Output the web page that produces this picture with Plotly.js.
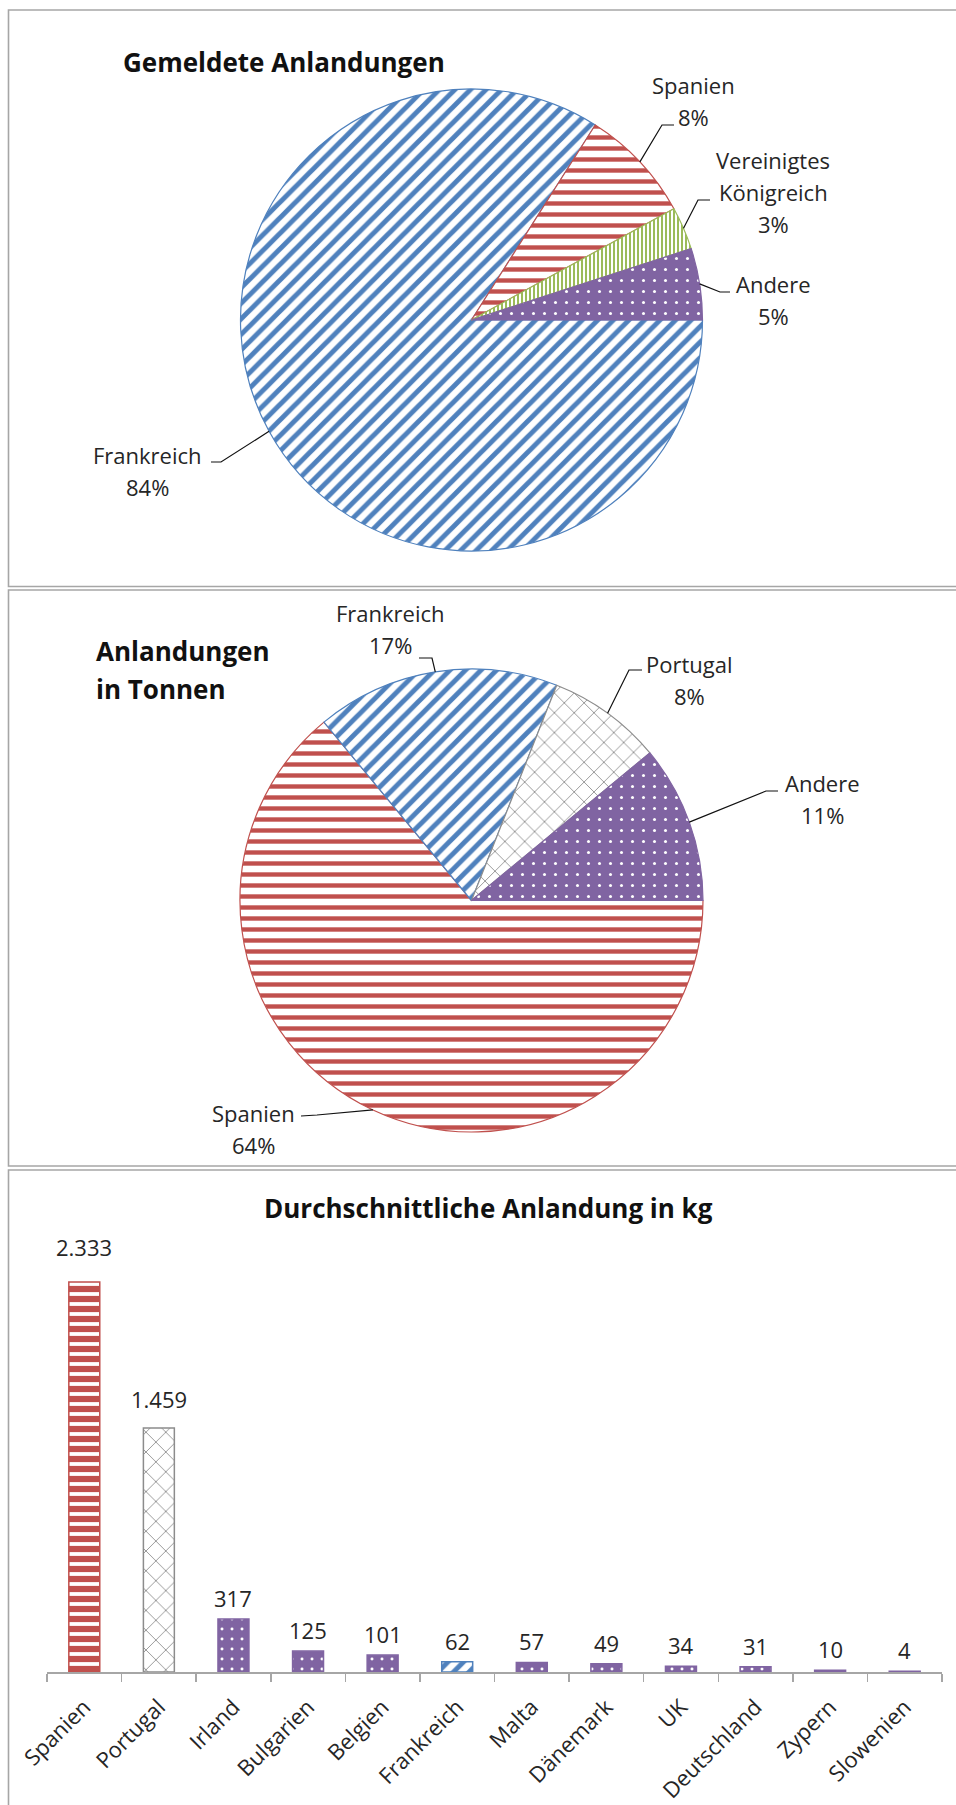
<!DOCTYPE html>
<html><head><meta charset="utf-8">
<script src="https://cdn.plot.ly/plotly-3.0.1.min.js"></script>
<style>html,body{margin:0;padding:0;background:#fff}#chart{width:956px;height:1805px}</style>
</head><body><div id="chart"></div>
<script>
// ---------------- data ----------------
const pie1Title = 'Gemeldete Anlandungen';
const pie1Labels = ['Frankreich', 'Spanien', 'Vereinigtes Königreich', 'Andere'];
const pie1Values = [84, 8, 3, 5];

const pie2TitleLines = ['Anlandungen', 'in Tonnen'];
const pie2Labels = ['Spanien', 'Frankreich', 'Portugal', 'Andere'];
const pie2Values = [64, 17, 8, 11];

const barTitle = 'Durchschnittliche Anlandung in kg';
const barCategories = ['Spanien', 'Portugal', 'Irland', 'Bulgarien', 'Belgien', 'Frankreich',
  'Malta', 'Dänemark', 'UK', 'Deutschland', 'Zypern', 'Slowenien'];
const barValues = [2333, 1459, 317, 125, 101, 62, 57, 49, 34, 31, 10, 4];

// ---------------- styles / layout ----------------
const W = 956, H = 1805;
const px = x => x / W;
const py = y => 1 - y / H;
const FONT = '"Open Sans", sans-serif';
const TEXT = '#262626';
const BORDER = '#a6a6a6';

const countryStyle = {
  'Frankreich': {line: '#4F81BD', shape: '/', fg: '#4F81BD', bg: '#ffffff', size: 11, solidity: 0.45},
  'Spanien': {line: '#C0504D', shape: '-', fg: '#C0504D', bg: '#ffffff', size: 11, solidity: 0.4},
  'Vereinigtes Königreich': {line: '#9BBB59', shape: '|', fg: '#9BBB59', bg: '#ffffff', size: 4, solidity: 0.5},
  'Portugal': {line: '#8C8C8C', shape: 'x', fg: '#8C8C8C', bg: '#ffffff', size: 14, solidity: 0.12},
  'Andere': {line: '#8064A2', shape: '.', fg: '#ffffff', bg: '#8064A2', size: 11, solidity: 0.06}
};
const barStyleOverride = {
  'Spanien': {size: 10, solidity: 0.62},
  'Andere': {size: 10, solidity: 0.07}
};
const styleOf = name => countryStyle[name] || countryStyle['Andere'];
const barStyleOf = name => Object.assign({}, styleOf(name),
  barStyleOverride[countryStyle[name] ? name : 'Andere'] || {});

const pie1Geom = {cx: 471.5, cy: 320, r: 231};
const pie2Geom = {cx: 471.5, cy: 900.5, r: 231.5};

const pie1LabelLayout = {
  'Frankreich': {x: 147, y: 471, start: [211, 462], elbow: [221, 462]},
  'Spanien': {x: 693, y: 101, start: [674, 125], elbow: [662, 125]},
  'Vereinigtes Königreich': {x: 773, y: 192, start: [710, 200], elbow: [698, 200]},
  'Andere': {x: 773, y: 300, start: [730, 292], elbow: [720, 292]}
};
const pie2LabelLayout = {
  'Frankreich': {x: 390, y: 628.5, start: [419, 658], elbow: [432, 658]},
  'Portugal': {x: 689, y: 679.5, start: [642, 670], elbow: [629, 670]},
  'Andere': {x: 822, y: 798.5, start: [778, 791], elbow: [766, 791]},
  'Spanien': {x: 253, y: 1128.5, start: [301, 1116], elbow: [317, 1115]}
};
const LABEL_LINE = 32;

const barAxis = {x0: 47, x1: 942, base: 1672, pxPerUnit: 0.1672, yMax: 2500};
const barLabelShift = 21;
const barLabelExtra = {'Spanien': 14, 'Portugal': 8};

// ---------------- build ----------------
function pieTrace(labels, values, g) {
  const st = labels.map(styleOf);
  return {
    type: 'pie', labels: labels, values: values, sort: false,
    direction: 'clockwise', rotation: 90, textinfo: 'none', hoverinfo: 'skip',
    domain: {x: [px(g.cx - g.r), px(g.cx + g.r)], y: [py(g.cy + g.r), py(g.cy - g.r)]},
    marker: {
      colors: st.map(s => s.bg),
      line: {color: st.map(s => s.line), width: 1.2},
      pattern: {
        shape: st.map(s => s.shape), fgcolor: st.map(s => s.fg), bgcolor: st.map(s => s.bg),
        size: st.map(s => s.size), solidity: st.map(s => s.solidity), fillmode: 'replace'
      }
    },
    showlegend: false
  };
}

function edgePoints(values, g) {
  const total = values.reduce((a, b) => a + b, 0);
  let cum = 0;
  return values.map(v => {
    const a = (cum + v / 2) / total * 2 * Math.PI;
    cum += v;
    return [g.cx + g.r * Math.cos(a), g.cy + g.r * Math.sin(a)];
  });
}

const annotations = [];
const shapes = [];

function pieLabels(labels, values, g, lay) {
  const total = values.reduce((a, b) => a + b, 0);
  const edges = edgePoints(values, g);
  labels.forEach((lab, i) => {
    const L = lay[lab];
    const lines = lab.split(' ').concat([Math.round(values[i] / total * 100) + '%']);
    lines.forEach((t, k) => {
      annotations.push({
        xref: 'paper', yref: 'paper', x: px(L.x), y: py(L.y + (k - (lines.length - 1) / 2) * LABEL_LINE),
        xanchor: 'center', yanchor: 'middle', text: t, showarrow: false,
        font: {family: FONT, size: 22, color: TEXT}
      });
    });
    const e = edges[i];
    shapes.push({
      type: 'path', xref: 'paper', yref: 'paper',
      path: `M ${px(L.start[0])},${py(L.start[1])} L ${px(L.elbow[0])},${py(L.elbow[1])} L ${px(e[0])},${py(e[1])}`,
      line: {color: '#111111', width: 1.2}
    });
  });
}

pieLabels(pie1Labels, pie1Values, pie1Geom, pie1LabelLayout);
pieLabels(pie2Labels, pie2Values, pie2Geom, pie2LabelLayout);

// titles
annotations.push({xref: 'paper', yref: 'paper', x: px(121), y: py(62), xanchor: 'left', yanchor: 'middle',
  text: '<b>' + pie1Title + '</b>', showarrow: false, font: {family: FONT, size: 26, color: '#111111'}});
pie2TitleLines.forEach((t, k) => annotations.push({xref: 'paper', yref: 'paper', x: px(94), y: py(651 + k * 38),
  xanchor: 'left', yanchor: 'middle', text: '<b>' + t + '</b>', showarrow: false,
  font: {family: FONT, size: 26, color: '#111111'}}));
annotations.push({xref: 'paper', yref: 'paper', x: px(488), y: py(1208), xanchor: 'center', yanchor: 'middle',
  text: '<b>' + barTitle + '</b>', showarrow: false, font: {family: FONT, size: 26, color: '#111111'}});

// bar value labels
const fmt = v => String(v).replace(/\B(?=(\d{3})+(?!\d))/g, '.');
barCategories.forEach((c, i) => annotations.push({
  xref: 'x', yref: 'y', x: c, y: barValues[i], xanchor: 'center', yanchor: 'middle',
  yshift: barLabelShift + (barLabelExtra[c] || 0), text: fmt(barValues[i]), showarrow: false,
  font: {family: FONT, size: 22, color: TEXT}
}));

// panel borders
[[8.5, 10, 975, 586.5], [8.5, 590, 975, 1166], [8.5, 1170, 975, 1830]].forEach(b => shapes.push({
  type: 'rect', xref: 'paper', yref: 'paper', x0: px(b[0]), x1: px(b[2]), y0: py(b[1]), y1: py(b[3]),
  line: {color: BORDER, width: 1.6}, fillcolor: 'rgba(0,0,0,0)'
}));

const bs = barCategories.map(barStyleOf);
const barTrace = {
  type: 'bar', x: barCategories, y: barValues, xaxis: 'x', yaxis: 'y', hoverinfo: 'skip',
  marker: {
    color: '#ffffff',
    line: {color: bs.map(s => s.line), width: 1.5},
    pattern: {
      shape: bs.map(s => s.shape), fgcolor: bs.map(s => s.fg), bgcolor: bs.map(s => s.bg),
      size: bs.map(s => s.size), solidity: bs.map(s => s.solidity), fillmode: 'replace'
    }
  },
  showlegend: false
};

const yTop = barAxis.base - barAxis.yMax * barAxis.pxPerUnit;
const layout = {
  width: W, height: H, margin: {l: 0, r: 0, t: 0, b: 0},
  paper_bgcolor: '#ffffff', plot_bgcolor: 'rgba(0,0,0,0)',
  font: {family: FONT, color: TEXT},
  bargap: 0.585,
  xaxis: {
    domain: [px(barAxis.x0), px(barAxis.x1)], anchor: 'y', type: 'category',
    range: [-0.5, barCategories.length - 0.5],
    showline: true, linecolor: BORDER, linewidth: 1.5,
    ticks: 'outside', ticklen: 8, tickcolor: BORDER, tickwidth: 1.5, tickson: 'boundaries',
    tickangle: -45, tickfont: {family: FONT, size: 22, color: TEXT}, ticklabelstandoff: 12,
    showgrid: false, zeroline: false, automargin: false, fixedrange: true
  },
  yaxis: {
    domain: [py(barAxis.base), py(yTop)], anchor: 'x', range: [0, barAxis.yMax],
    visible: false, showgrid: false, zeroline: false, fixedrange: true
  },
  annotations: annotations,
  shapes: shapes
};

Plotly.newPlot('chart', [
  pieTrace(pie1Labels, pie1Values, pie1Geom),
  pieTrace(pie2Labels, pie2Values, pie2Geom),
  barTrace
], layout, {staticPlot: true, displayModeBar: false});
</script>
</body></html>
